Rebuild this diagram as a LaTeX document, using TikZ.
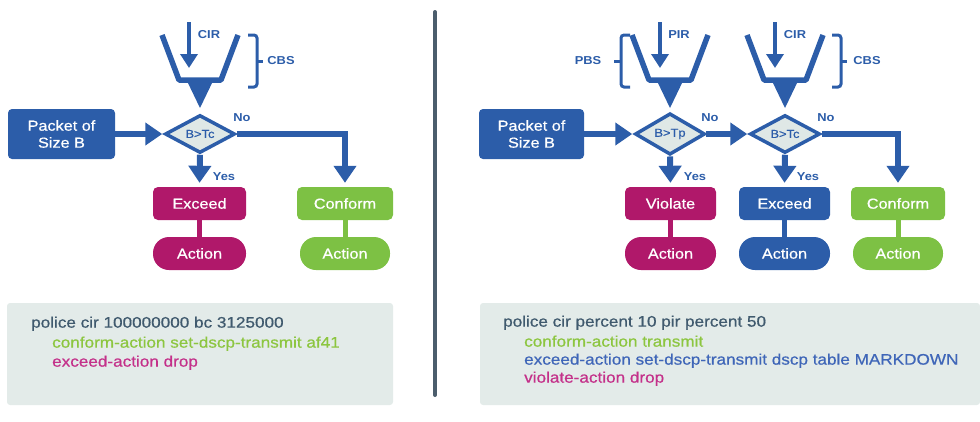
\documentclass[tikz,border=0pt]{standalone}
\usepackage{fontspec}
\setmainfont[FakeStretch=1.12]{Liberation Sans}
\newfontfamily\medfont[FakeStretch=1.12,FakeBold=0.6]{Liberation Sans}
\usetikzlibrary{arrows.meta,shapes.geometric}
\definecolor{bblue}{HTML}{2C5DA9}
\definecolor{mag}{HTML}{B0186A}
\definecolor{grn}{HTML}{7DC144}
\definecolor{dfill}{HTML}{DFE8E6}
\definecolor{codebg}{HTML}{E3EBE9}
\definecolor{divc}{HTML}{4B5D6C}
\definecolor{cdark}{HTML}{405A6E}
\definecolor{cgrn}{HTML}{8CC63F}
\definecolor{cblue}{HTML}{3F66B8}
\definecolor{cmag}{HTML}{C4318A}
\tikzset{
  flow/.style={draw=bblue,line width=6pt,-{Triangle[width=22pt,length=17pt]}},
  rate/.style={draw=bblue,line width=4pt,-{Triangle[width=17pt,length=14pt]}},
  bucket/.style={draw=bblue,line width=5.5pt,line join=round},
  brace/.style={draw=bblue,line width=3pt,rounded corners=3pt},
  lbl/.style={text=bblue,font=\bfseries\fontsize{11.5}{13}\selectfont,inner sep=0pt},
  dec/.style={shape=diamond,draw=bblue,line width=3.5pt,fill=dfill,minimum width=70pt,minimum height=38pt,inner sep=0pt,text=bblue,font=\medfont\fontsize{11.5}{13}\selectfont},
  pkt/.style={rectangle,rounded corners=4pt,fill=bblue,text=white,minimum width=107pt,minimum height=50pt,inner sep=0pt,align=center,font=\medfont\fontsize{14.5}{17}\selectfont},
  res/.style={rectangle,rounded corners=5pt,fill=#1,text=white,minimum height=33pt,inner sep=0pt,font=\medfont\fontsize{14.5}{17}\selectfont},
  act/.style={rectangle,rounded corners=16pt,fill=#1,text=white,minimum height=33pt,inner sep=0pt,font=\medfont\fontsize{14.5}{17}\selectfont},
  link/.style={draw=#1,line width=5pt},
  code/.style={anchor=west,inner sep=0pt,text height=0.75em,text depth=0.22em,font=\medfont\fontsize{15.3}{18}\selectfont},
}
\newcommand{\bucketat}[1]{%
  \draw[bucket] (#1-38,35) -- (#1-21,80) -- (#1+21,80) -- (#1+38,35);
  \fill[bblue] (#1-13,81) -- (#1+13,81) -- (#1,108) -- cycle;}
\begin{document}
\begin{tikzpicture}[x=1pt,y=-1pt]
\useasboundingbox (0,0) rectangle (980,421);
% divider
\draw[divc,line width=4pt,line cap=round] (435,12) -- (435,395);

% ================= LEFT =================
\bucketat{200}
\coordinate (lcirA) at (189,22);
\coordinate (lcirB) at (189,68);
\draw[rate] (lcirA) -- (lcirB);
\node[lbl] (lcir) at (209,35) {CIR};
\draw[brace] (248,35) -- (257,35) -- (257,87) -- (248,87);
\coordinate (lbt) at (257,61);
\coordinate (lbt2) at (263,61);
\draw[bblue,line width=3pt] (lbt) -- (lbt2);
\node[lbl] (lcbs) at (281,61) {CBS};

\node[pkt] (lpkt) at (61.5,134) {Packet of\\Size B};
\node[dec] (ld) at (200,134) {B>Tc};
\node[res=mag,minimum width=93pt] (lexc) at (199.5,203.5) {Exceed};
\node[act=mag,minimum width=93pt] (lexca) at (199.5,253.5) {Action};
\node[res=grn,minimum width=96pt] (lcon) at (345,203.5) {Conform};
\node[act=grn,minimum width=90pt] (lcona) at (345,253.5) {Action};

\draw[flow,shorten <=-1pt,shorten >=1pt] (lpkt.east) -- (ld.west);
\draw[flow,shorten >=4pt] (ld.south) -- (lexc.north);
\draw[flow,shorten >=4pt] (ld.east) -| (lcon.north);
\draw[link=mag] (lexc.south) -- (lexca.north);
\draw[link=grn] (lcon.south) -- (lcona.north);
\node[lbl] (lno) at (242,118) {No};
\node[lbl] (lyes) at (224,177) {Yes};

% code box left
\fill[codebg,rounded corners=3pt] (7,303) rectangle (393,405);
\node[code,text=cdark] (lc1) at (31,325) {police cir 100000000 bc 3125000};
\node[code,text=cgrn] (lc2) at (52,345) {conform-action set-dscp-transmit af41};
\node[code,text=cmag] (lc3) at (52,364) {exceed-action drop};

% ================= RIGHT =================
\bucketat{670}
\bucketat{785}
\coordinate (pirA) at (660,22);
\coordinate (pirB) at (660,68);
\draw[rate] (pirA) -- (pirB);
\node[lbl] (rpir) at (679,35) {PIR};
\coordinate (rcirA) at (775,22);
\coordinate (rcirB) at (775,68);
\draw[rate] (rcirA) -- (rcirB);
\node[lbl] (rcir) at (795,35) {CIR};
\draw[brace] (630,35) -- (621,35) -- (621,87) -- (630,87);
\coordinate (rbt) at (621,61);
\coordinate (rbt2) at (614,61);
\draw[bblue,line width=3pt] (rbt) -- (rbt2);
\node[lbl] (rpbs) at (588,61) {PBS};
\draw[brace] (832,35) -- (841,35) -- (841,87) -- (832,87);
\coordinate (rct) at (841,61);
\coordinate (rct2) at (847,61);
\draw[bblue,line width=3pt] (rct) -- (rct2);
\node[lbl] (rcbs) at (867,61) {CBS};

\node[pkt,minimum width=105pt] (rpkt) at (531.5,134) {Packet of\\Size B};
\node[dec] (rd1) at (670,134) {B>Tp};
\node[dec] (rd2) at (785,134) {B>Tc};
\node[res=mag,minimum width=91pt] (rvio) at (670.5,203.5) {Violate};
\node[act=mag,minimum width=91pt] (rvioa) at (670.5,253.5) {Action};
\node[res=bblue,minimum width=91pt] (rexc) at (784.5,203.5) {Exceed};
\node[act=bblue,minimum width=91pt] (rexca) at (784.5,253.5) {Action};
\node[res=grn,minimum width=94pt] (rcon) at (898,203.5) {Conform};
\node[act=grn,minimum width=90pt] (rcona) at (898,253.5) {Action};

\draw[flow,shorten <=-1pt,shorten >=1pt] (rpkt.east) -- (rd1.west);
\draw[flow,shorten <=-1pt,shorten >=1pt] (rd1.east) -- (rd2.west);
\draw[flow,shorten >=4pt] (rd1.south) -- (rvio.north);
\draw[flow,shorten >=4pt] (rd2.south) -- (rexc.north);
\draw[flow,shorten >=4pt] (rd2.east) -| (rcon.north);
\draw[link=mag] (rvio.south) -- (rvioa.north);
\draw[link=bblue] (rexc.south) -- (rexca.north);
\draw[link=grn] (rcon.south) -- (rcona.north);
\node[lbl] (rno1) at (710,118) {No};
\node[lbl] (rno2) at (826,118) {No};
\node[lbl] (ryes1) at (695,177) {Yes};
\node[lbl] (ryes2) at (808,177) {Yes};

% code box right
\fill[codebg,rounded corners=3pt] (480,303) rectangle (980,405);
\node[code,text=cdark] (rc1) at (503,324) {police cir percent 10 pir percent 50};
\node[code,text=cgrn] (rc2) at (524,344) {conform-action transmit};
\node[code,text=cblue] (rc3) at (524,362) {exceed-action set-dscp-transmit dscp table MARKDOWN};
\node[code,text=cmag] (rc4) at (524,380) {violate-action drop};
\end{tikzpicture}
\end{document}
